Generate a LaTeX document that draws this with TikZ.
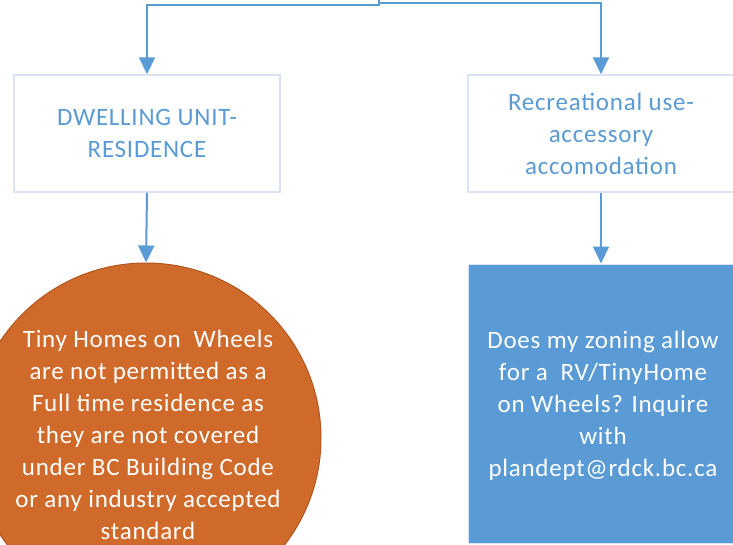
\documentclass[tikz,border=0pt]{standalone}
\usepackage{fontspec}
\setmainfont[LetterSpace=3]{Carlito}
\usetikzlibrary{arrows.meta}
\definecolor{lineblue}{RGB}{91,155,213}
\definecolor{boxedge}{RGB}{218,227,243}
\definecolor{orangefill}{RGB}{208,106,43}
\definecolor{orangeedge}{RGB}{176,86,30}
\begin{document}
\begin{tikzpicture}[x=1pt,y=-1pt,
  conn/.style={draw=lineblue,line width=2pt,-{Triangle[length=17pt,width=16pt]}},
  catbox/.style={draw=boxedge,line width=1.5pt,fill=white,minimum width=266pt,minimum height=117pt,inner sep=0pt,text=lineblue,font=\fontsize{25}{32}\selectfont,align=center},
  bluebox/.style={draw=boxedge,line width=1pt,fill=lineblue,minimum width=266pt,minimum height=279pt,inner sep=0pt},
  circshape/.style={circle,draw=orangeedge,line width=1pt,fill=orangefill,minimum size=350pt,inner sep=0pt},
  whitetext/.style={text=white,font=\fontsize{25}{32}\selectfont,align=center,inner sep=0pt}]
\useasboundingbox (0,0) rectangle (733,544);
\node[catbox] (dw) at (147,133.5) {DWELLING UNIT-\\RESIDENCE};
\node[catbox] (rec) at (601,133.5) {Recreational use-\\accessory\\accomodation};
\node[circshape] (res) at (146,438) {};
\node[whitetext] (restext) at (148,435) {Tiny Homes on\ \ Wheels\\are not permitted as a\\Full time residence as\\they are not covered\\under BC Building Code\\or any industry accepted\\standard};
\node[bluebox] (rv) at (601,403.5) {};
\node[whitetext] (rvtext) at (603,406) {Does my zoning allow\\for a\ \ RV/TinyHome\\on Wheels? Inquire\\with\\plandept@rdck.bc.ca};
\coordinate (src) at (379,0);
\coordinate (jl) at (379,5);
\coordinate (jr) at (379,3);
\draw[conn] (src) -- (jl) -| (dw.north);
\draw[conn] (jr) -| (rec.north);
\draw[conn] (dw.south) -- (res.north);
\draw[conn] (rec.south) -- (rv.north);
\end{tikzpicture}
\end{document}
